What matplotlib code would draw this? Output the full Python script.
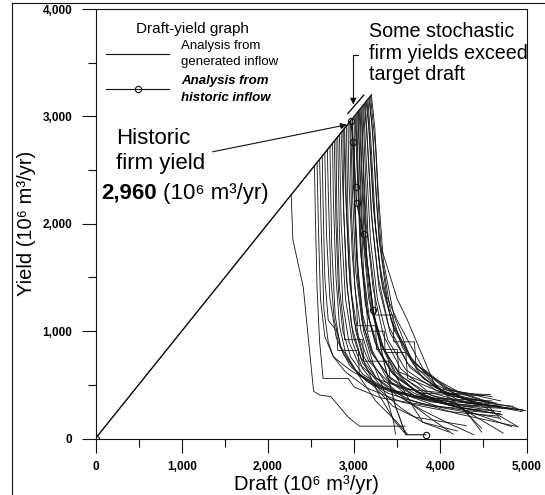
import matplotlib
matplotlib.use("Agg")
import matplotlib.pyplot as plt
from matplotlib.lines import Line2D

plt.rcParams['font.family'] = ['Liberation Sans', 'DejaVu Sans']

# ---------------- data ----------------
x_ticks = [0, 1000, 2000, 3000, 4000, 5000]
x_tick_labels = ["0", "1,000", "2,000", "3,000", "4,000", "5,000"]
y_ticks = [0, 1000, 2000, 3000, 4000]
y_tick_labels = ["0", "1,000", "2,000", "3,000", "4,000"]

# yield = draft up to the firm yield (common diagonal)
diag_draft = [0, 3200]
diag_yield = [0, 3200]

# analysis from historic inflow
hist_draft = [0, 2960, 2990, 3020, 3030, 3110, 3190, 3220, 3350, 3480, 3600, 3830]
hist_yield = [0, 2960, 2760, 2340, 2190, 1900, 1400, 1200, 700, 300, 35, 35]
hist_marked = [0, 1, 2, 3, 4, 5, 7, 11]

# analysis from generated inflow (one list per stochastic trace)
gen_draft = [
    [2540, 2550, 2570, 2600, 2640, 2930, 3000, 3300, 3900, 4600],
    [2570, 2585, 2610, 2660, 2760, 2950, 3300, 3800, 4700],
    [2600, 2620, 2650, 2700, 2760, 2900, 3150, 3550, 4100, 4650],
    [2630, 2640, 2660, 2700, 2800, 2810, 3050, 3060, 3400, 4000, 4450],
    [2660, 2680, 2720, 2790, 2880, 3050, 3300, 3700, 4400],
    [2690, 2700, 2730, 2770, 2850, 3000, 3250, 3450, 3700, 4300],
    [2720, 2740, 2780, 2840, 2950, 3150, 3400, 3750, 4300, 4700],
    [2750, 2760, 2790, 2830, 2900, 3060, 3250, 3500, 3620],
    [2770, 2790, 2820, 2870, 2960, 3100, 3350, 3800, 4600],
    [2790, 2800, 2830, 2880, 2890, 3100, 3110, 3400, 3420, 3800, 4500],
    [2810, 2830, 2870, 2940, 3050, 3250, 3600, 4100, 4580],
    [2830, 2850, 2900, 2980, 3100, 3300, 3550, 3800, 4200],
    [2850, 2870, 2910, 2970, 3080, 3260, 3500, 3900, 4690],
    [2870, 2880, 2920, 2990, 3100, 3300, 3650, 4200, 4900],
    [2890, 2910, 2950, 3020, 3120, 3280, 3480, 3600],
    [2910, 2930, 2970, 3050, 3170, 3380, 3700, 4150, 4720],
    [2930, 2940, 2980, 3030, 3040, 3250, 3260, 3500, 3520, 4000, 4600],
    [2950, 2970, 3010, 3080, 3180, 3350, 3600, 3900, 4150],
    [2960, 2980, 3020, 3090, 3200, 3400, 3700, 4100, 4700],
    [2980, 2990, 3030, 3100, 3210, 3380, 3620, 4000, 4680],
    [3000, 3010, 3050, 3110, 3220, 3420, 3700, 4250, 4730],
    [3010, 3030, 3070, 3130, 3240, 3430, 3750, 4300, 4830],
    [3020, 3040, 3080, 3150, 3160, 3350, 3360, 3600, 3620, 4100, 4650],
    [3030, 3050, 3090, 3160, 3270, 3450, 3700, 4000, 4400],
    [3040, 3060, 3100, 3170, 3290, 3480, 3720, 4100, 4600],
    [3050, 3070, 3110, 3180, 3300, 3500, 3800, 4300, 4950],
    [3060, 3080, 3120, 3190, 3310, 3500, 3680, 3800, 4100],
    [3070, 3090, 3140, 3210, 3330, 3520, 3800, 4200, 4480],
    [3080, 3100, 3140, 3220, 3340, 3540, 3850, 4300, 4700],
    [3090, 3110, 3150, 3230, 3350, 3560, 3900, 4400, 4650],
    [3100, 3120, 3160, 3240, 3250, 3450, 3460, 3700, 3720, 4200, 4700],
    [3110, 3140, 3190, 3270, 3390, 3600, 3950, 4500, 4980],
    [3120, 3150, 3200, 3280, 3400, 3620, 3950, 4400, 4850],
    [3130, 3160, 3210, 3290, 3420, 3650, 4000, 4500, 4900],
    [3140, 3170, 3220, 3300, 3430, 3680, 4050, 4600],
    [3150, 3180, 3230, 3310, 3450, 3700, 4050, 4500, 4700],
    [3160, 3200, 3250, 3330, 3470, 3700, 4000, 4300, 4480],
    [3170, 3210, 3260, 3300, 3310, 3500, 3620, 3930, 4090, 4600],
    [3180, 3220, 3270, 3290, 3300, 3380, 3500, 3800, 4200, 4900],
    [3190, 3250, 3290, 3320, 3420, 3560, 3800, 4200, 4950],
    [3200, 3240, 3280, 3340, 3460, 3650, 3950, 4400, 4990],
    [2270, 2290, 2410, 2530, 2600, 2730, 2930, 3060, 3590],
    [2980, 3000, 3040, 3110, 3220, 3380, 3460, 3480],
    [2880, 2900, 2940, 3000, 3100, 3260, 3500, 3800, 4100, 4390],
]
gen_yield = [
    [2540, 2100, 1400, 900, 560, 560, 480, 380, 300, 260],
    [2570, 2000, 1300, 950, 760, 640, 470, 370, 300],
    [2600, 1900, 1200, 900, 760, 620, 470, 340, 250, 210],
    [2630, 2200, 1500, 1100, 1000, 820, 820, 600, 440, 330, 300],
    [2660, 1900, 1300, 950, 780, 600, 480, 400, 330],
    [2690, 2300, 1500, 1100, 850, 650, 470, 300, 200, 120],
    [2720, 1800, 1150, 850, 680, 530, 420, 330, 260, 230],
    [2750, 2200, 1500, 1050, 800, 580, 350, 150, 40],
    [2770, 2000, 1350, 1000, 760, 600, 470, 380, 350],
    [2790, 2100, 1400, 1050, 920, 920, 720, 720, 520, 420, 400],
    [2810, 1900, 1250, 900, 700, 560, 460, 420, 410],
    [2830, 2000, 1300, 900, 650, 450, 280, 150, 70],
    [2850, 2300, 1500, 1050, 750, 560, 430, 340, 290],
    [2870, 2100, 1400, 950, 700, 500, 360, 230, 110],
    [2890, 2200, 1450, 1000, 700, 420, 150, 40],
    [2910, 2000, 1350, 950, 720, 540, 400, 300, 220],
    [2930, 2400, 1700, 1220, 1050, 1050, 830, 830, 620, 460, 390],
    [2950, 2100, 1400, 1000, 740, 540, 360, 180, 40],
    [2960, 2300, 1550, 1100, 800, 580, 420, 320, 250],
    [2980, 2500, 1700, 1150, 820, 560, 400, 290, 190],
    [3000, 2200, 1500, 1050, 780, 560, 400, 280, 50],
    [3010, 2600, 1800, 1250, 900, 620, 430, 260, 110],
    [3020, 2500, 1700, 1150, 1000, 1000, 800, 800, 560, 400, 330],
    [3030, 2400, 1650, 1150, 830, 600, 450, 330, 260],
    [3040, 2700, 1900, 1300, 920, 620, 430, 310, 240],
    [3050, 2300, 1550, 1100, 800, 560, 400, 300, 270],
    [3060, 2600, 1800, 1250, 880, 560, 300, 150, 60],
    [3070, 2500, 1750, 1200, 860, 600, 430, 320, 95],
    [3080, 2700, 2000, 1400, 960, 650, 440, 330, 300],
    [3090, 2400, 1650, 1150, 820, 570, 400, 320, 300],
    [3100, 2700, 1900, 1350, 1150, 1150, 900, 900, 650, 440, 350],
    [3110, 2600, 1850, 1300, 920, 640, 450, 320, 260],
    [3120, 2800, 2100, 1500, 1050, 700, 470, 340, 300],
    [3130, 2700, 2000, 1400, 980, 660, 450, 300, 110],
    [3140, 2900, 2200, 1600, 1100, 720, 480, 330],
    [3150, 2800, 2100, 1500, 1050, 700, 470, 350, 180],
    [3160, 2700, 1950, 1400, 1000, 680, 450, 250, 60],
    [3170, 2900, 2200, 1800, 1790, 1300, 1100, 510, 400, 330],
    [3180, 2800, 2100, 1850, 1790, 1320, 1100, 650, 400, 280],
    [3190, 2700, 2050, 1700, 1200, 850, 560, 360, 250],
    [3200, 2900, 2300, 1650, 1150, 760, 500, 330, 260],
    [2270, 1850, 1410, 440, 405, 390, 200, 115, 115],
    [2980, 2300, 1500, 1000, 700, 380, 150, 40],
    [2880, 2300, 1600, 1100, 780, 560, 400, 260, 140, 35],
]

# ---------------- figure ----------------
W, H = 545, 495
fig = plt.figure(figsize=(W / 100, H / 100), dpi=100)
ax = fig.add_axes([95.5 / W, 1 - 438.5 / H, 431 / W, 429.5 / H])

ink = '#111111'
for d, y in zip(gen_draft, gen_yield):
    ax.plot(d, y, color=ink, lw=0.6, solid_joinstyle='miter')
ax.plot(diag_draft, diag_yield, color=ink, lw=0.8)
ax.plot(hist_draft, hist_yield, color=ink, lw=0.8, marker='o', ms=4.5,
        mfc='none', mec=ink, mew=0.8, markevery=hist_marked)

ax.set_xlim(0, 5000)
ax.set_ylim(0, 4000)
ax.set_xticks(x_ticks)
ax.set_xticklabels(x_tick_labels)
ax.set_yticks(y_ticks)
ax.set_yticklabels(y_tick_labels)
ax.set_xticks([500, 1500, 2500, 3500, 4500], minor=True)
ax.set_yticks([500, 1500, 2500, 3500], minor=True)
ax.tick_params(which='major', direction='out', length=10, width=0.8,
               labelsize=8.5, color=ink)
ax.tick_params(which='minor', direction='out', length=6, width=0.8, color=ink)
ax.tick_params(axis='x', pad=6)
ax.tick_params(axis='y', pad=6.5)
for lab in ax.get_xticklabels() + ax.get_yticklabels():
    lab.set_fontweight('bold')
for s in ax.spines.values():
    s.set_linewidth(0.8)
    s.set_color(ink)

ax.set_xlabel('Draft (10⁶ m³/yr)', fontsize=14.5)
ax.set_ylabel('Yield (10⁶ m³/yr)', fontsize=14.5)
ax.xaxis.set_label_coords((306 - 95.5) / 431, (438.5 - 484) / 429.5)
ax.xaxis.label.set_va('center')
ax.yaxis.set_label_coords((26.7 - 95.5) / 431, 0.5)
ax.yaxis.label.set_va('center')

# legend
h_gen = Line2D([], [], color=ink, lw=0.8)
h_hist = Line2D([], [], color=ink, lw=0.8, marker='o', ms=4.5, mfc='none',
                mec=ink, mew=0.8)
leg = ax.legend([h_gen, h_hist],
                ['Analysis from\ngenerated inflow', 'Analysis from\nhistoric inflow'],
                title='Draft-yield graph', title_fontsize=11, fontsize=9.5,
                frameon=False, handlelength=4.8, handletextpad=0.9,
                labelspacing=0.55, numpoints=1, loc='upper left',
                bbox_to_anchor=((106 - 95.5) / 431, (438.5 - 22) / 429.5),
                borderpad=0, borderaxespad=0)
leg._legend_box.sep = 3
for tx in leg.get_texts():
    tx.set_linespacing(1.45)
t = leg.get_texts()[1]
t.set_fontweight('bold')
t.set_fontstyle('italic')

# annotations
ax.annotate('', xy=(2915, 2922), xytext=(1357, 2670),
            arrowprops=dict(arrowstyle='-|>', lw=0.8, color=ink,
                            mutation_scale=9, shrinkA=0, shrinkB=0))
ax.text((116 - 95.5) / 431 * 5000, (438.5 - 151) / 107.4 * 1000,
        'Historic\nfirm yield', fontsize=16, ha='left', va='center',
        linespacing=1.3)
ax.text((101 - 95.5) / 431 * 5000, (438.5 - 193) / 107.4 * 1000,
        '2,960', fontsize=16, fontweight='bold', ha='left', va='center')
ax.text((163 - 95.5) / 431 * 5000, (438.5 - 193) / 107.4 * 1000,
        '(10⁶ m³/yr)', fontsize=16, ha='left', va='center')

ax.text(3170, 3590, 'Some stochastic\nfirm yields exceed\ntarget draft',
        fontsize=14.2, ha='left', va='center', linespacing=1.18)
ax.annotate('', xy=(2990, 3110), xytext=(3050, 3568),
            arrowprops=dict(arrowstyle='-|>', lw=0.8, color=ink,
                            mutation_scale=9, shrinkA=0, shrinkB=0,
                            connectionstyle='angle,angleA=0,angleB=90,rad=0'))
ax.annotate('', xy=(3115, 3200), xytext=(2925, 3025),
            arrowprops=dict(arrowstyle='-', lw=1.0, color=ink,
                            shrinkA=0, shrinkB=0))

# scanned-page frame
fig.add_artist(Line2D([12 / W, 12 / W], [0, 1 - 3 / H], transform=fig.transFigure,
                      color=ink, lw=0.8))
fig.add_artist(Line2D([12 / W, 1], [1 - 3 / H, 1 - 3 / H], transform=fig.transFigure,
                      color=ink, lw=0.8))

fig.savefig('out.png', dpi=100)
